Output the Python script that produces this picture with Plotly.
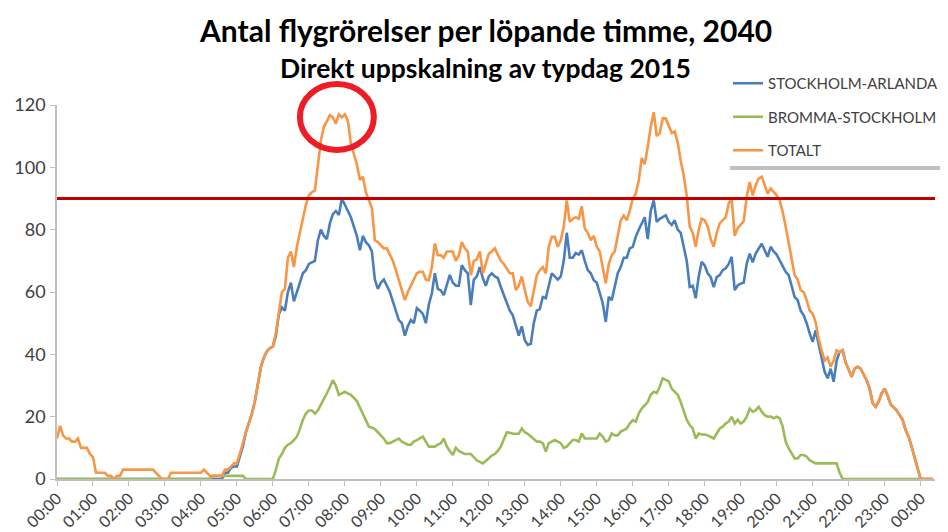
import plotly.graph_objects as go

# ---- data (5-minute steps, 00:00 .. 24:20) ----
hour_labels = ["00:00", "01:00", "02:00", "03:00", "04:00", "05:00", "06:00", "07:00",
               "08:00", "09:00", "10:00", "11:00", "12:00", "13:00", "14:00", "15:00",
               "16:00", "17:00", "18:00", "19:00", "20:00", "21:00", "22:00", "23:00", "00:00"]

totalt = [
    13, 17, 14, 13, 13, 12, 12, 13, 10, 10, 10, 8,
    7, 2, 2, 2, 2, 1, 1, 0, 1, 1, 3, 3,
    3, 3, 3, 3, 3, 3, 3, 3, 3, 2, 1, 0,
    0, 0, 2, 2, 2, 2, 2, 2, 2, 2, 2, 2,
    2, 3, 2, 1, 1, 1, 1, 1, 3, 3, 4, 5,
    5, 8, 11.5, 15, 18, 21, 25, 30, 36, 39, 41, 42,
    42.5, 47, 54, 60, 61, 71, 73, 68, 74.5, 79, 84, 88,
    91, 92, 92.6, 101, 108.6, 113, 115, 116.7, 116, 114, 117, 116,
    117, 115, 107.6, 104, 101, 96, 97, 92, 89.4, 87, 76.6, 76,
    75, 74, 74, 72, 70, 67, 64, 61, 57.4, 60, 62, 64,
    66, 66.5, 66.5, 64, 63.8, 68, 75.6, 71.8, 71.8, 71, 73, 73,
    73, 70, 71.8, 76, 74, 73, 65.4, 70, 70.5, 73, 66, 69,
    72.3, 73, 74, 72, 70, 69, 67.6, 66, 66, 60.6, 62, 65,
    60.6, 56.8, 55.4, 60, 65.4, 67, 68, 66, 74.5, 77.7, 77.7, 74.5,
    76.6, 81, 89.4, 82.5, 83.5, 84, 83.5, 87.5, 80.4, 79, 76.6, 78,
    74.5, 73, 68, 62.8, 69, 71.8, 73, 78, 83, 84.5, 83, 86,
    90, 91.5, 95.8, 103, 101, 106.5, 113, 117.7, 110, 111, 115.7, 115.7,
    113.6, 111, 111.5, 108, 102, 97.4, 91, 81, 79, 74.5, 80, 83.5,
    83, 81, 77, 74.5, 79, 82, 83, 84, 88.4, 90, 78, 80.5,
    81.6, 82.7, 90.5, 95.3, 91, 94.3, 96.4, 97, 94.3, 91.6, 93.2, 92,
    91, 89.4, 85.7, 81, 76, 70, 65.4, 64, 60.6, 60, 57.4, 54,
    53, 50.3, 45, 41.3, 38, 39, 36, 38, 41.3, 40.6, 41.3, 37.4,
    35, 32.8, 35.4, 36, 35.4, 33.5, 31.7, 29, 24.3, 23.2, 24.8, 27.5,
    29, 26.7, 24, 23, 22, 20.5, 19, 15.7, 13.6, 10.4, 7.2, 3.4,
    0, 0, 0, 0, 0,
]

arlanda = [
    0, 0, 0, 0, 0, 0, 0, 0, 0, 0, 0, 0,
    0, 0, 0, 0, 0, 0, 0, 0, 0, 0, 0, 0,
    0, 0, 0, 0, 0, 0, 0, 0, 0, 0, 0, 0,
    0, 0, 0, 0, 0, 0, 0, 0, 0, 0, 0, 0,
    0, 0, 0, 0, 0, 0, 0, 0, 2, 2, 3.6, 4,
    4, 7, 10.5, 15, 18, 21, 25, 30, 36, 39, 41, 42,
    42.5, 46, 53, 55, 54, 60, 63, 57, 60, 63, 66, 67,
    69, 69.5, 70, 76.6, 80, 78, 77, 82, 85, 86, 84.7, 90,
    88, 86, 84, 81, 78, 73.4, 78, 76, 75, 73, 64, 61,
    63, 64, 62, 60, 57, 54, 51, 50, 46, 49, 51, 50,
    54.8, 54, 53, 50, 56, 59.5, 66, 61, 60.5, 59, 62, 65.5,
    63, 62, 62, 68.6, 67, 66, 55.8, 64, 65, 68, 64.5, 62,
    65, 66, 65, 64.5, 61.6, 59, 56, 54, 52.5, 48.8, 46, 49,
    44.5, 43, 43.4, 50, 54, 54.5, 58.4, 58, 61.6, 66, 65, 64,
    65, 70, 79, 71, 71, 72.5, 72, 73.4, 70, 67, 66, 63.8,
    63, 60, 56.4, 50.4, 58.4, 57.4, 61.6, 66, 68, 71, 71, 74,
    74.5, 77.7, 80, 82, 84, 77, 86, 89.4, 82.5, 83.5, 84, 84.6,
    82.5, 81.5, 83, 80, 79, 74.5, 70, 61.6, 62, 58, 65, 69.7,
    68.5, 66, 64.8, 61.6, 64.8, 65.4, 67, 67.6, 69, 71.3, 60.6, 62.1,
    62.7, 63, 69, 72.3, 69.5, 72.3, 74, 75.5, 73.4, 71.3, 74.5, 73,
    72, 70, 68, 66.5, 65.4, 62, 58.4, 57.4, 54, 52.5, 50, 46.7,
    44, 47.7, 43.4, 39, 34.4, 32.3, 35.4, 31.2, 38, 40.8, 41.3, 37.4,
    35, 32.8, 35.4, 36, 35.4, 33.5, 31.7, 29, 24.3, 23.2, 24.8, 27.5,
    29, 26.7, 24, 23, 22, 20.5, 19, 15.7, 13.6, 10.4, 7.2, 3.4,
    0, 0, 0, 0, 0,
]

bromma = [
    0, 0, 0, 0, 0, 0, 0, 0, 0, 0, 0, 0,
    0, 0, 0, 0, 0, 0, 0, 0, 0, 0, 0, 0,
    0, 0, 0, 0, 0, 0, 0, 0, 0, 0, 0, 0,
    0, 0, 0, 0, 0, 0, 0, 0, 0, 0, 0, 0,
    0, 0, 0, 0, 1, 1, 1, 1, 1, 1, 1, 1,
    1, 1, 1, 0, 0, 0, 0, 0, 0, 0, 0, 0,
    0, 3, 6.6, 8, 10, 11, 11.5, 12.5, 13.6, 16, 19, 21,
    22, 22, 21, 22, 23.7, 25.5, 27.5, 29.5, 31.7, 30, 27, 27.5,
    28, 27.5, 27, 26, 25, 23, 21, 19, 16.8, 16.5, 16, 15,
    14, 13, 11.5, 11.5, 12, 12.5, 13, 12, 11.5, 11, 11, 12,
    12.5, 13, 13.6, 12, 10.4, 10.4, 10.4, 11, 11.5, 13, 10.4, 9,
    7.7, 10, 9, 8.5, 8, 8, 8, 7, 6, 5.5, 5, 5.8,
    6.7, 7.5, 8, 9, 10.4, 12.5, 15, 14.8, 14.5, 14.5, 14.5, 16.2,
    15, 14.5, 13.6, 12.8, 12, 12, 11.5, 8.8, 11.5, 12, 12.5, 12,
    11.5, 10, 10.4, 11.5, 12.5, 12.5, 12, 14.6, 13, 13, 13, 13,
    13, 14.6, 13.6, 12, 12.5, 14.6, 14, 14, 15.2, 15.7, 16.2, 17.8,
    18.9, 18.4, 21, 22.6, 23.7, 24.7, 27, 28, 27.6, 29.6, 32.3, 31.8,
    31.3, 29, 28, 27, 24.7, 22, 19, 17.3, 16.2, 13, 14.6, 14.3,
    14.3, 14, 13.6, 13, 14.6, 16.2, 16.8, 17.8, 18.4, 20, 17.8, 19,
    17.8, 18.4, 20, 22.6, 21.6, 22, 23.2, 21.6, 20.5, 20, 20, 19.5,
    20, 19.5, 16.8, 12, 9.8, 8.2, 6.6, 6.6, 7.7, 7.7, 7.2, 6,
    5.5, 5, 5, 5, 5, 5, 5, 5, 5, 2, 0, 0,
    0, 0, 0, 0, 0, 0, 0, 0, 0, 0, 0, 0,
    0, 0, 0, 0, 0, 0, 0, 0, 0, 0, 0, 0,
    0, 0, 0, 0, 0,
]

threshold = 90
step_minutes = 5

# x positions in hours (category index * 5 min)
hours = [i * step_minutes / 60 for i in range(len(totalt))]

FONT = "Lato, 'Open Sans', sans-serif"
TXT = "#404040"

fig = go.Figure()
series = [
    ("STOCKHOLM-ARLANDA", arlanda, "#4a7ebb"),
    ("BROMMA-STOCKHOLM", bromma, "#9bbb59"),
    ("TOTALT", totalt, "#f79646"),
]
for i, (name, vals, col) in enumerate(series):
    fig.add_trace(go.Scatter(
        x=hours, y=vals, mode="lines", name=name, legendgroup=f"g{i}",
        line=dict(color=col, width=2.6), hoverinfo="skip",
    ))

# page has an 8px body margin; figure is sized so the plot area lands at
# page px x 57..935, y 105..479
OFF = 8
W, H = 940, 524
L, R, T, B = 49, 13, 97, 53
PL, PT = L + OFF, T + OFF
PW, PH = W - L - R, H - T - B
PB = PT + PH

def px(xp):
    return (xp - PL) / PW

def py(yp):
    return (PB - yp) / PH

shapes = [
    # threshold line
    dict(type="line", xref="x", yref="y", x0=0, x1=24.4, y0=threshold, y1=threshold,
         line=dict(color="#c00000", width=3.2), layer="above"),
    # highlight circle around morning peak
    dict(type="circle", xref="x", yref="paper", x0=(300 - PL) / 36, x1=(374 - PL) / 36,
         y0=py(150), y1=py(84), line=dict(color="#ee1c25", width=6), layer="above"),
    # legend shadow and box
    dict(type="rect", xref="paper", yref="paper", x0=px(730), x1=px(946), y0=py(170), y1=py(67),
         fillcolor="rgba(140,140,140,0.55)", line=dict(width=0), layer="above"),
    dict(type="rect", xref="paper", yref="paper", x0=px(727), x1=px(943), y0=py(166), y1=py(64),
         fillcolor="white", line=dict(width=0), layer="above"),
]

annotations = [
    dict(text="<b>Antal flygrörelser per löpande timme, 2040</b>", xref="paper", yref="paper",
         x=px(485), y=py(30), xanchor="center", yanchor="middle", showarrow=False,
         font=dict(family=FONT, size=30, color="#000000")),
    dict(text="<b>Direkt uppskalning av typdag 2015</b>", xref="paper", yref="paper",
         x=px(485), y=py(68), xanchor="center", yanchor="middle", showarrow=False,
         font=dict(family=FONT, size=26.5, color="#000000")),
]

fig.update_layout(
    width=W, height=H,
    margin=dict(l=L, r=R, t=T, b=B, autoexpand=False),
    paper_bgcolor="white", plot_bgcolor="white",
    showlegend=True,
    legend=dict(x=px(728), y=py(67), xanchor="left", yanchor="top",
                bgcolor="rgba(0,0,0,0)", font=dict(family=FONT, size=15, color=TXT),
                tracegroupgap=11, traceorder="grouped"),
    shapes=shapes, annotations=annotations,
    xaxis=dict(range=[0, 24.4], tickvals=list(range(25)), ticktext=hour_labels,
               tickangle=-45, showline=True, linecolor="#bfbfbf", linewidth=1.5,
               ticks="outside", ticklen=5, tickcolor="#bfbfbf", showgrid=False,
               zeroline=False, automargin=False, ticklabelstandoff=-3,
               tickfont=dict(family=FONT, size=16, color=TXT)),
    yaxis=dict(range=[0, 120], tickvals=[0, 20, 40, 60, 80, 100, 120], showline=True,
               linecolor="#bfbfbf", linewidth=1.5, ticks="outside", ticklen=5,
               tickcolor="#bfbfbf", showgrid=False, zeroline=False, automargin=False,
               ticklabelstandoff=1,
               tickfont=dict(family=FONT, size=18, color=TXT)),
)

fig.write_html("out.html")
